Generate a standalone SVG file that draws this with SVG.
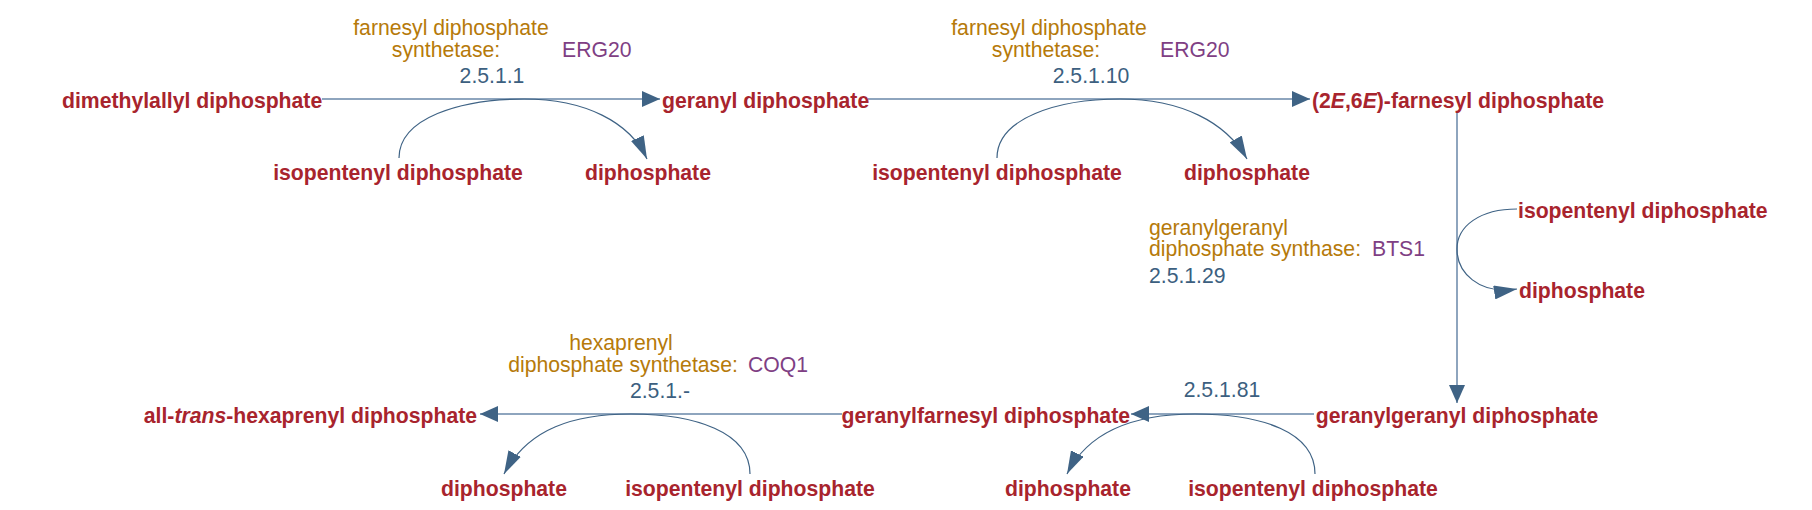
<svg xmlns="http://www.w3.org/2000/svg" width="1812" height="510" viewBox="0 0 1812 510">
<style>
text{font-family:"Liberation Sans",Arial,Helvetica,sans-serif;font-size:21.2px}
.c{fill:#a8242d;font-weight:bold}
.m{text-anchor:middle}
.e{text-anchor:end}
.enz{fill:#b67a0a}
.gene{fill:#7f3f84}
.ec{fill:#3c5f80}
.main{fill:none;stroke:#8ea5be;stroke-width:2}
.side{fill:none;stroke:#3f6385;stroke-width:1.2}
</style>
<defs>
<marker id="ah" markerUnits="userSpaceOnUse" markerWidth="18" markerHeight="16" refX="18" refY="8" orient="auto" viewBox="0 0 18 16">
<path d="M0,0 L18,8 L0,16 z" fill="#3f6385"/>
</marker>
<marker id="as" markerUnits="userSpaceOnUse" markerWidth="23" markerHeight="14" refX="23" refY="7" orient="auto" viewBox="0 0 23 14">
<path d="M0,0 L23,7 L0,14 z" fill="#3f6385"/>
</marker>
</defs>
<rect width="1812" height="510" fill="#ffffff"/>
<g id="connectors">
<path class="main" d="M322 99 L660 99" marker-end="url(#ah)"/>
<path class="side" d="M399 158 C399 118 460 99 524 99 C585 99 630 122 647 159" marker-end="url(#as)"/>
<path class="main" d="M868 99 L1310 99" marker-end="url(#ah)"/>
<path class="side" d="M997 158 C997 118 1058 99 1120 99 C1181 99 1226 122 1247 159" marker-end="url(#as)"/>
<path class="main" d="M1457 112 L1457 403" marker-end="url(#ah)"/>
<path class="side" d="M1517 209 C1480 209 1457 226 1457 249 C1457 272 1478 295 1517 289" marker-end="url(#as)"/>
<path class="main" d="M1314 414 L1131 414" marker-end="url(#ah)"/>
<path class="side" d="M1315 474 C1315 432 1262 414 1195 414 C1140 414 1090 428 1067 474" marker-end="url(#as)"/>
<path class="main" d="M842 414 L480 414" marker-end="url(#ah)"/>
<path class="side" d="M750 474 C750 432 695 414 631 414 C575 414 528 428 504 474" marker-end="url(#as)"/>
</g>
<g id="labels">
<g id="r1-label">
<text class="enz m" x="451" y="35">farnesyl diphosphate</text>
<text class="enz m" x="446" y="57">synthetase:</text>
<text class="gene" x="562" y="57">ERG20</text>
<text class="ec m" x="492" y="83">2.5.1.1</text>
</g>
<g id="r2-label">
<text class="enz m" x="1049" y="35">farnesyl diphosphate</text>
<text class="enz m" x="1046" y="57">synthetase:</text>
<text class="gene" x="1160" y="57">ERG20</text>
<text class="ec m" x="1091" y="83">2.5.1.10</text>
</g>
<g id="r3-label">
<text class="enz" x="1149" y="235">geranylgeranyl</text>
<text class="enz" x="1149" y="256">diphosphate synthase:</text>
<text class="gene" x="1372" y="256">BTS1</text>
<text class="ec" x="1149" y="283">2.5.1.29</text>
</g>
<g id="r4-label">
<text class="ec m" x="1222" y="397">2.5.1.81</text>
</g>
<g id="r5-label">
<text class="enz m" x="621" y="350">hexaprenyl</text>
<text class="enz m" x="623" y="372">diphosphate synthetase:</text>
<text class="gene" x="748" y="372">COQ1</text>
<text class="ec m" x="660" y="398">2.5.1.-</text>
</g>
</g>
<g id="n-dmapp"><text class="c" x="62" y="108">dimethylallyl diphosphate</text></g>
<g id="n-gpp"><text class="c" x="662" y="108">geranyl diphosphate</text></g>
<g id="n-fpp"><text class="c" x="1312" y="108">(2<tspan font-style="italic">E</tspan>,6<tspan font-style="italic">E</tspan>)-farnesyl diphosphate</text></g>
<g id="n-ipp1"><text class="c m" x="398" y="180">isopentenyl diphosphate</text></g>
<g id="n-ppi1"><text class="c m" x="648" y="180">diphosphate</text></g>
<g id="n-ipp2"><text class="c m" x="997" y="180">isopentenyl diphosphate</text></g>
<g id="n-ppi2"><text class="c m" x="1247" y="180">diphosphate</text></g>
<g id="n-ipp3"><text class="c" x="1518" y="218">isopentenyl diphosphate</text></g>
<g id="n-ppi3"><text class="c" x="1519" y="298">diphosphate</text></g>
<g id="n-ggpp"><text class="c m" x="1457" y="423">geranylgeranyl diphosphate</text></g>
<g id="n-gfpp"><text class="c e" x="1130" y="423">geranylfarnesyl diphosphate</text></g>
<g id="n-hexpp"><text class="c e" x="477" y="423">all-<tspan font-style="italic">trans</tspan>-hexaprenyl diphosphate</text></g>
<g id="n-ppi5"><text class="c m" x="504" y="496">diphosphate</text></g>
<g id="n-ipp5"><text class="c m" x="750" y="496">isopentenyl diphosphate</text></g>
<g id="n-ppi4"><text class="c m" x="1068" y="496">diphosphate</text></g>
<g id="n-ipp4"><text class="c m" x="1313" y="496">isopentenyl diphosphate</text></g>
</svg>
